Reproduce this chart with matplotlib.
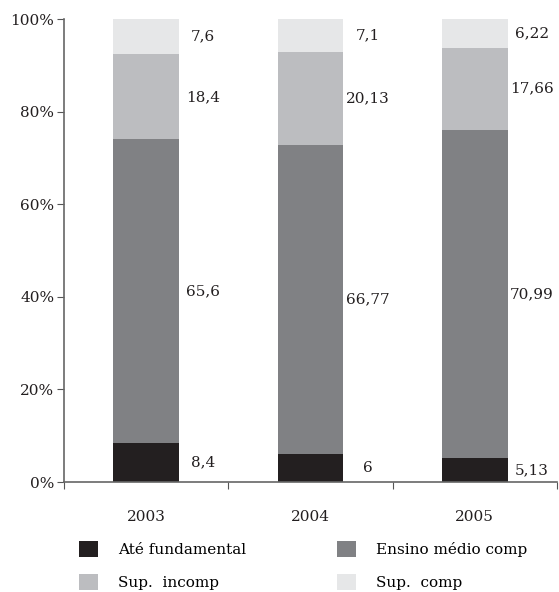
import matplotlib.pyplot as plt
from matplotlib.patches import Patch

years = ['2003', '2004', '2005']
ate_fundamental = [8.4, 6, 5.13]
ensino_medio = [65.6, 66.77, 70.99]
sup_incomp = [18.4, 20.13, 17.66]
sup_comp = [7.6, 7.1, 6.22]

series = [ate_fundamental, ensino_medio, sup_incomp, sup_comp]
names = ['Até fundamental', 'Ensino médio comp', 'Sup.  incomp', 'Sup.  comp']
colors = ['#231f20', '#808184', '#bcbdc0', '#e6e7e8']

plt.rcParams['font.family'] = 'DejaVu Serif'
plt.rcParams['font.size'] = 11

fig = plt.figure(figsize=(5.59, 5.92), dpi=100)
ax = fig.add_axes([0.1145, 0.1858, 0.882, 0.782])

x = range(len(years))
bottom = [0, 0, 0]
for vals, col in zip(series, colors):
    ax.bar(x, vals, width=0.40, bottom=bottom, color=col, linewidth=0)
    for i, v in enumerate(vals):
        ax.text(i + 0.348, bottom[i] + v / 2, f"{v:g}".replace('.', ','),
                ha='center', va='center', color='#231f20')
    bottom = [b + v for b, v in zip(bottom, vals)]

ax.set_xlim(-0.5, 2.5)
ax.set_ylim(0, 100)
ax.set_yticks([0, 20, 40, 60, 80, 100])
ax.set_yticklabels(['0%', '20%', '40%', '60%', '80%', '100%'])
ax.set_xticks([-0.5, 0.5, 1.5, 2.5])
ax.set_xticklabels([])
ax.set_xticks([0, 1, 2], minor=True)
ax.set_xticklabels(years, minor=True)
ax.tick_params(axis='x', which='minor', length=0, pad=20)
ax.tick_params(axis='x', which='major', length=5, direction='out')
ax.tick_params(axis='y', length=5, pad=2)
ax.tick_params(axis='both', which='both', color='#555555', labelcolor='#231f20')
for s in ['top', 'right']:
    ax.spines[s].set_visible(False)
for s in ['left', 'bottom']:
    ax.spines[s].set_color('#666666')
    ax.spines[s].set_linewidth(1.2)

order = [0, 2, 1, 3]
handles = [Patch(facecolor=colors[k], edgecolor='none', label=names[k]) for k in order]
fig.legend(handles=handles, ncol=2, loc='upper left', bbox_to_anchor=(0.141, 0.0866),
           frameon=False, handlelength=1.25, handleheight=1.25, handletextpad=1.3,
           columnspacing=5.95, labelspacing=1.12, borderaxespad=0, borderpad=0)

fig.savefig('out.png', dpi=100)
